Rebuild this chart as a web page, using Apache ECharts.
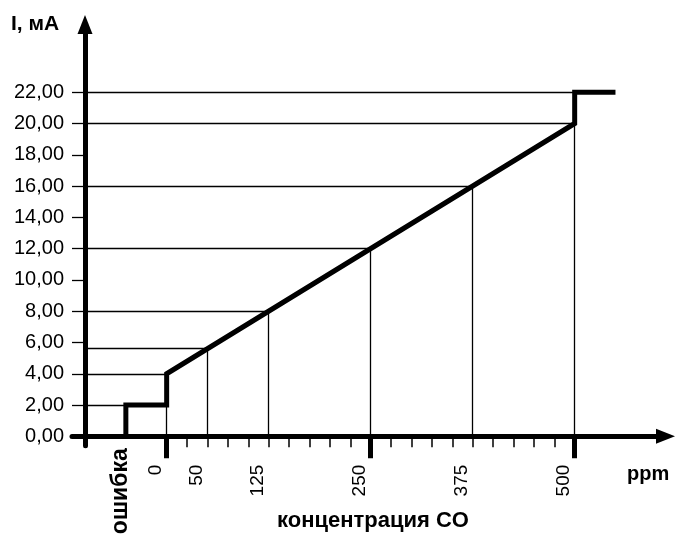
<!DOCTYPE html>
<html>
<head>
<meta charset="utf-8">
<title>Ток от концентрации CO</title>
<script src="https://cdn.jsdelivr.net/npm/echarts@6/dist/echarts.min.js"></script>
<style>
  html, body { margin: 0; padding: 0; background: #fff; }
  #chart { width: 676px; height: 534px; }
</style>
</head>
<body>
<div id="chart"></div>
<script>
  // характеристика: ток (мА) от концентрации CO (ppm)
  const curveX = [-50, -50, 0, 0, 500, 500, 550];
  const curveY = [0, 2, 2, 4, 20, 22, 22];
  const errorX = -50;
  const xTicks = [0, 50, 125, 250, 375, 500];
  const majorTicks = [0, 250, 500];
  const minorTicks = [25, 50, 75, 100, 125, 150, 175, 200, 225, 275, 300, 325, 350, 375, 400, 425, 450, 475];
  const yTicks = [0, 2, 4, 6, 8, 10, 12, 14, 16, 18, 20, 22];
  // вспомогательные линии: [x, y] точки на характеристике
  const hGuides = [[-50, 2], [0, 4], [50, 5.6], [125, 8], [250, 12], [375, 16], [500, 20], [500, 22]];
  const vGuides = [[0, 2], [50, 5.6], [125, 8], [250, 12], [375, 16], [500, 20]];

  const font = '"Liberation Sans", Arial, Helvetica, sans-serif';
  const black = '#000';
  const labelShift = 13.5; // подписи слегка левее рисок

  let guideLines = [];
  hGuides.forEach(function (p) {
    guideLines.push([{ coord: [-100, p[1]] }, { coord: [p[0], p[1]] }]);
  });
  vGuides.forEach(function (p) {
    guideLines.push([{ coord: [p[0], 0] }, { coord: [p[0], p[1]] }]);
  });

  let myChart = echarts.init(document.getElementById('chart'));
  myChart.setOption({
    animation: false,
    backgroundColor: '#fff',
    grid: { left: 72, right: 10.5, top: 24.5, bottom: 88.3, containLabel: false, outerBoundsMode: 'none' },
    graphic: [
      { type: 'text', left: 11, top: 14, style: { text: 'I, мА', font: 'bold 21px ' + font, fill: black } },
      { type: 'text', x: 627, y: 474, style: { text: 'ppm', font: 'bold 20px ' + font, fill: black, verticalAlign: 'middle' } },
      { type: 'text', x: 373, y: 521, style: { text: 'концентрация CO', font: 'bold 22px ' + font, fill: black, align: 'center', verticalAlign: 'middle' } }
    ],
    xAxis: [
      {
        type: 'value', min: -116, max: 611.3,
        axisLine: { show: true, onZero: true, symbol: ['none', 'triangle'], symbolSize: [15, 19], lineStyle: { color: black, width: 5 } },
        axisTick: { show: true, customValues: minorTicks, length: 11, lineStyle: { color: black, width: 1.5 } },
        axisLabel: {
          customValues: xTicks.map(function (v) { return v - labelShift; }),
          formatter: function (v) { return String(Math.round(v + labelShift)); },
          rotate: 90, margin: 19, fontSize: 19, fontFamily: font, color: black
        },
        splitLine: { show: false }
      },
      {
        type: 'value', min: -116, max: 611.3, position: 'bottom', offset: -9.4,
        axisLine: { show: false, onZero: false },
        axisTick: { show: true, customValues: majorTicks, length: 22, lineStyle: { color: black, width: 5 } },
        axisLabel: {
          customValues: [errorX - 6], rotate: 90, margin: 12,
          formatter: function () { return 'ошибка'; },
          fontSize: 23, fontWeight: 'bold', fontFamily: font, color: black
        },
        splitLine: { show: false }
      }
    ],
    yAxis: {
      type: 'value', min: -0.6, max: 26.33, position: 'left', offset: -13,
      axisLine: { show: true, onZero: false, symbol: ['none', 'triangle'], symbolSize: [15, 19], lineStyle: { color: black, width: 5 } },
      axisTick: { show: true, customValues: yTicks, length: 13, lineStyle: { color: black, width: 1.3 } },
      axisLabel: {
        customValues: yTicks, margin: 21, fontSize: 20, fontFamily: font, color: black,
        formatter: function (v) { return v.toFixed(2).replace('.', ','); }
      },
      splitLine: { show: false }
    },
    series: [
      {
        type: 'line',
        xAxisIndex: 0,
        data: curveX.map(function (x, i) { return [x, curveY[i]]; }),
        symbol: 'none',
        lineStyle: { color: black, width: 5, join: 'miter', cap: 'butt' },
        z: 3,
        markLine: {
          silent: true,
          symbol: ['none', 'none'],
          label: { show: false },
          lineStyle: { color: black, width: 1.3, type: 'solid' },
          emphasis: { disabled: true },
          data: guideLines,
          z: 2
        }
      }
    ]
  });
</script>
</body>
</html>
